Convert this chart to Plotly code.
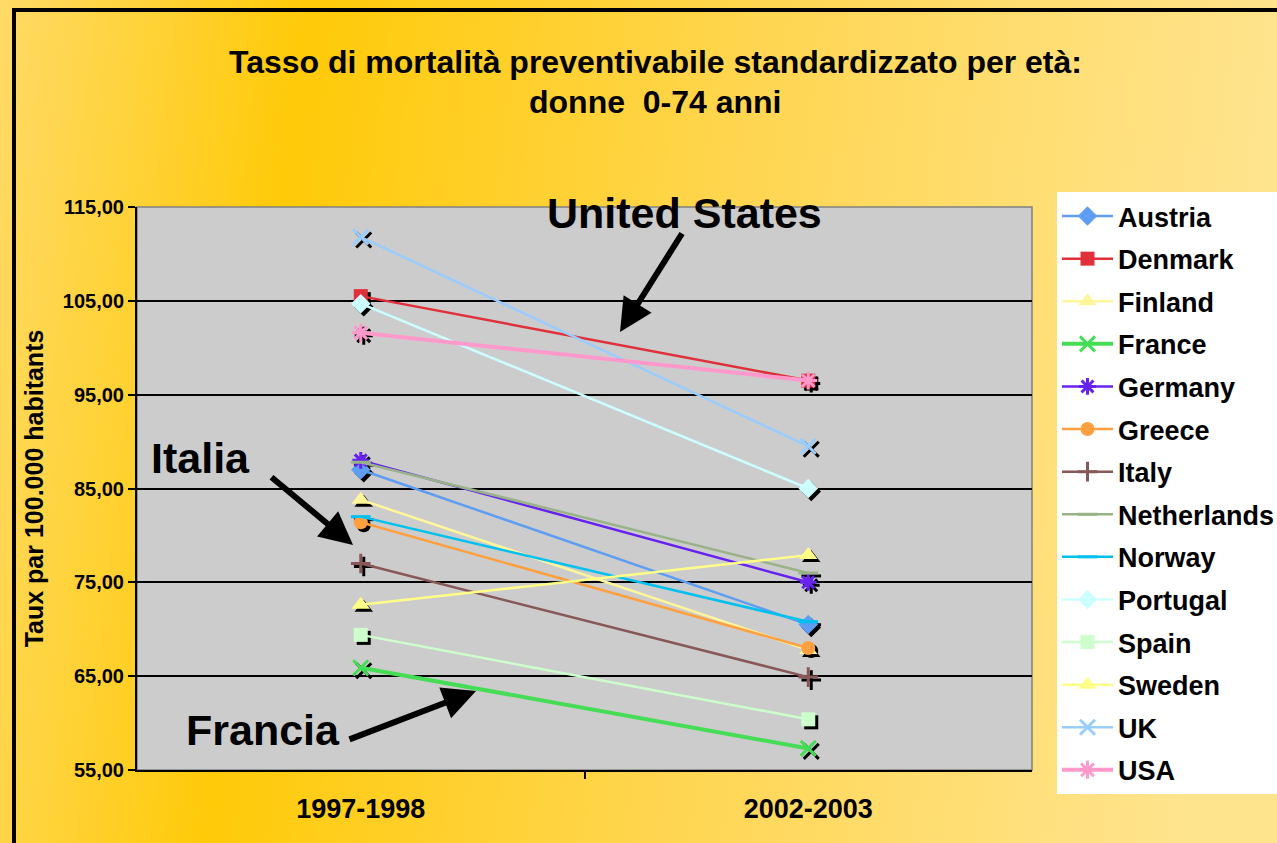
import base64
import plotly.graph_objects as go

# Age-standardised avoidable mortality, women 0-74 (per 100,000)
periods = ["1997-1998", "2002-2003"]
countries = ["Austria", "Denmark", "Finland", "France", "Germany", "Greece", "Italy",
             "Netherlands", "Norway", "Portugal", "Spain", "Sweden", "UK", "USA"]
rate_1997 = [87.0, 105.5, 83.8, 65.9, 88.0, 81.4, 77.0, 87.8, 82.0, 104.7, 69.4, 72.6, 111.8, 101.6]
rate_2002 = [70.5, 96.5, 67.8, 57.3, 75.0, 68.0, 64.9, 76.0, 70.8, 85.0, 60.4, 77.9, 89.5, 96.5]

colors = ["#5E9EF2", "#E0303A", "#FFF59A", "#44DD55", "#6622EE", "#FFA040", "#885858",
          "#99B388", "#00C0F0", "#CCFFFF", "#CCFFCC", "#FFFF88", "#99CCFF", "#FF99CC"]
symbols = ["diamond", "square", "triangle-up", "x-thin", "asterisk", "circle", "cross-thin",
           "line-ew", "line-ew", "diamond", "square", "triangle-up", "x-thin", "asterisk"]
sizes = [15, 14, 16, 15, 14, 14, 14, 14, 14, 15, 14, 16, 15, 15]
widths = [2.5, 2.5, 2.5, 4, 2.5, 2.5, 2.5, 2.5, 2.5, 2.5, 2.5, 2.5, 2.5, 4]

xpos = [0, 1]
open_syms = {"x-thin", "asterisk", "cross-thin", "line-ew"}
FONT = "Liberation Sans, Arial, sans-serif"

fig = go.Figure()

# drop shadows behind the markers (a few pixels right/down)
dx, dy = 0.0067, 0.32
for i, name in enumerate(countries):
    sym = symbols[i]
    fig.add_trace(go.Scatter(
        x=[v + dx for v in xpos], y=[rate_1997[i] - dy, rate_2002[i] - dy],
        mode="markers", showlegend=False, hoverinfo="skip",
        marker=dict(symbol=sym, size=sizes[i], color="black",
                    line=dict(color="black", width=3 if sym in open_syms else 0)),
    ))

for i, name in enumerate(countries):
    sym = symbols[i]
    fig.add_trace(go.Scatter(
        x=xpos, y=[rate_1997[i], rate_2002[i]], name=name, legendgroup=name,
        mode="lines+markers",
        line=dict(color=colors[i], width=widths[i]),
        marker=dict(symbol=sym, size=sizes[i], color=colors[i],
                    line=dict(color=colors[i], width=3 if sym in open_syms else 0)),
    ))

# warm yellow backdrop gradient
svg = """<svg xmlns='http://www.w3.org/2000/svg' width='1277' height='843'>
<defs><linearGradient id='g' x1='0' y1='0' x2='1' y2='0.08'>
<stop offset='0' stop-color='#FFDA66'/>
<stop offset='0.24' stop-color='#FFCA08'/>
<stop offset='0.6' stop-color='#FFD652'/>
<stop offset='1' stop-color='#FFE48E'/>
</linearGradient></defs>
<rect width='1277' height='843' fill='url(#g)'/></svg>"""
bg_uri = "data:image/svg+xml;base64," + base64.b64encode(svg.encode()).decode()

L, R, T, B = 137, 245, 207, 73
W, H = 1277, 843
pw, ph = W - L - R, H - T - B


def px(xp):
    return (xp - L) / pw


def py(yp):
    return (H - B - yp) / ph


fig.add_layout_image(dict(source=bg_uri, xref="paper", yref="paper",
                          x=px(0), y=py(0), sizex=W / pw, sizey=H / ph,
                          sizing="stretch", xanchor="left", yanchor="top", layer="below"))

shapes = [
    # plot area fill
    dict(type="rect", xref="paper", yref="paper", x0=0, x1=1, y0=0, y1=1,
         fillcolor="#CCCCCC", line=dict(color="#808080", width=1.5), layer="below"),
    # outer frame
    dict(type="line", xref="paper", yref="paper", x0=px(14), x1=px(14), y0=py(10), y1=py(860),
         line=dict(color="black", width=4)),
    dict(type="line", xref="paper", yref="paper", x0=px(12), x1=px(1300), y0=py(10), y1=py(10),
         line=dict(color="black", width=4)),
]

big = dict(family=FONT, size=43, color="black", weight="bold")
title_font = dict(family=FONT, size=32, color="black", weight="bold")


def label(text, xp, yp, font):
    return dict(text=text, xref="paper", yref="paper", x=px(xp), y=py(yp), showarrow=False,
                xanchor="center", yanchor="middle", font=font)


annotations = [
    label("Tasso di mortalità preventivabile standardizzato per età:", 655, 62, title_font),
    label("donne  0-74 anni", 655, 102, title_font),
    label("United States", 684, 213, big),
    label("Italia", 200, 458, big),
    label("Francia", 263, 730, big),
]
for hx, hy, tx, ty in [(620, 332, 683, 232), (353, 545, 270, 476), (476, 691, 348, 740)]:
    annotations.append(dict(text="", xref="paper", yref="paper", x=px(hx), y=py(hy),
                            ax=tx - hx, ay=ty - hy, showarrow=True, arrowhead=2,
                            arrowsize=1.1, arrowwidth=6, arrowcolor="black"))

fig.update_layout(
    width=W, height=H,
    margin=dict(l=L, r=R, t=T, b=B, autoexpand=False),
    paper_bgcolor="#FFD64F",
    plot_bgcolor="rgba(0,0,0,0)",
    separators=",.",
    font=dict(family=FONT, color="black"),
    shapes=shapes,
    annotations=annotations,
    legend=dict(x=px(1057), y=py(192), xanchor="left", yanchor="top",
                bgcolor="white", borderwidth=0, tracegroupgap=4.5, maxheight=700,
                font=dict(size=27, color="black", family=FONT, weight="bold"),
                itemwidth=51),
    xaxis=dict(range=[-0.5, 1.5], tickvals=xpos, ticktext=periods,
               ticks="", showgrid=False, zeroline=False, showline=True, linecolor="black",
               linewidth=2, tickfont=dict(size=27, weight="bold"), ticklabelstandoff=14,
               minor=dict(tickvals=[0.5], ticks="outside", ticklen=7, tickcolor="black",
                          tickwidth=2, showgrid=False)),
    yaxis=dict(range=[55, 115], dtick=10, tick0=55, tickformat=".2f", showgrid=True,
               gridcolor="black", gridwidth=2, zeroline=False, showline=True,
               linecolor="black", linewidth=2, ticks="outside", ticklen=7,
               tickcolor="black", tickwidth=2, tickfont=dict(size=20, weight="bold"),
               title=dict(text="Taux par 100.000 habitants",
                          font=dict(size=25, weight="bold"), standoff=12)),
)

fig.write_html("out.html")
